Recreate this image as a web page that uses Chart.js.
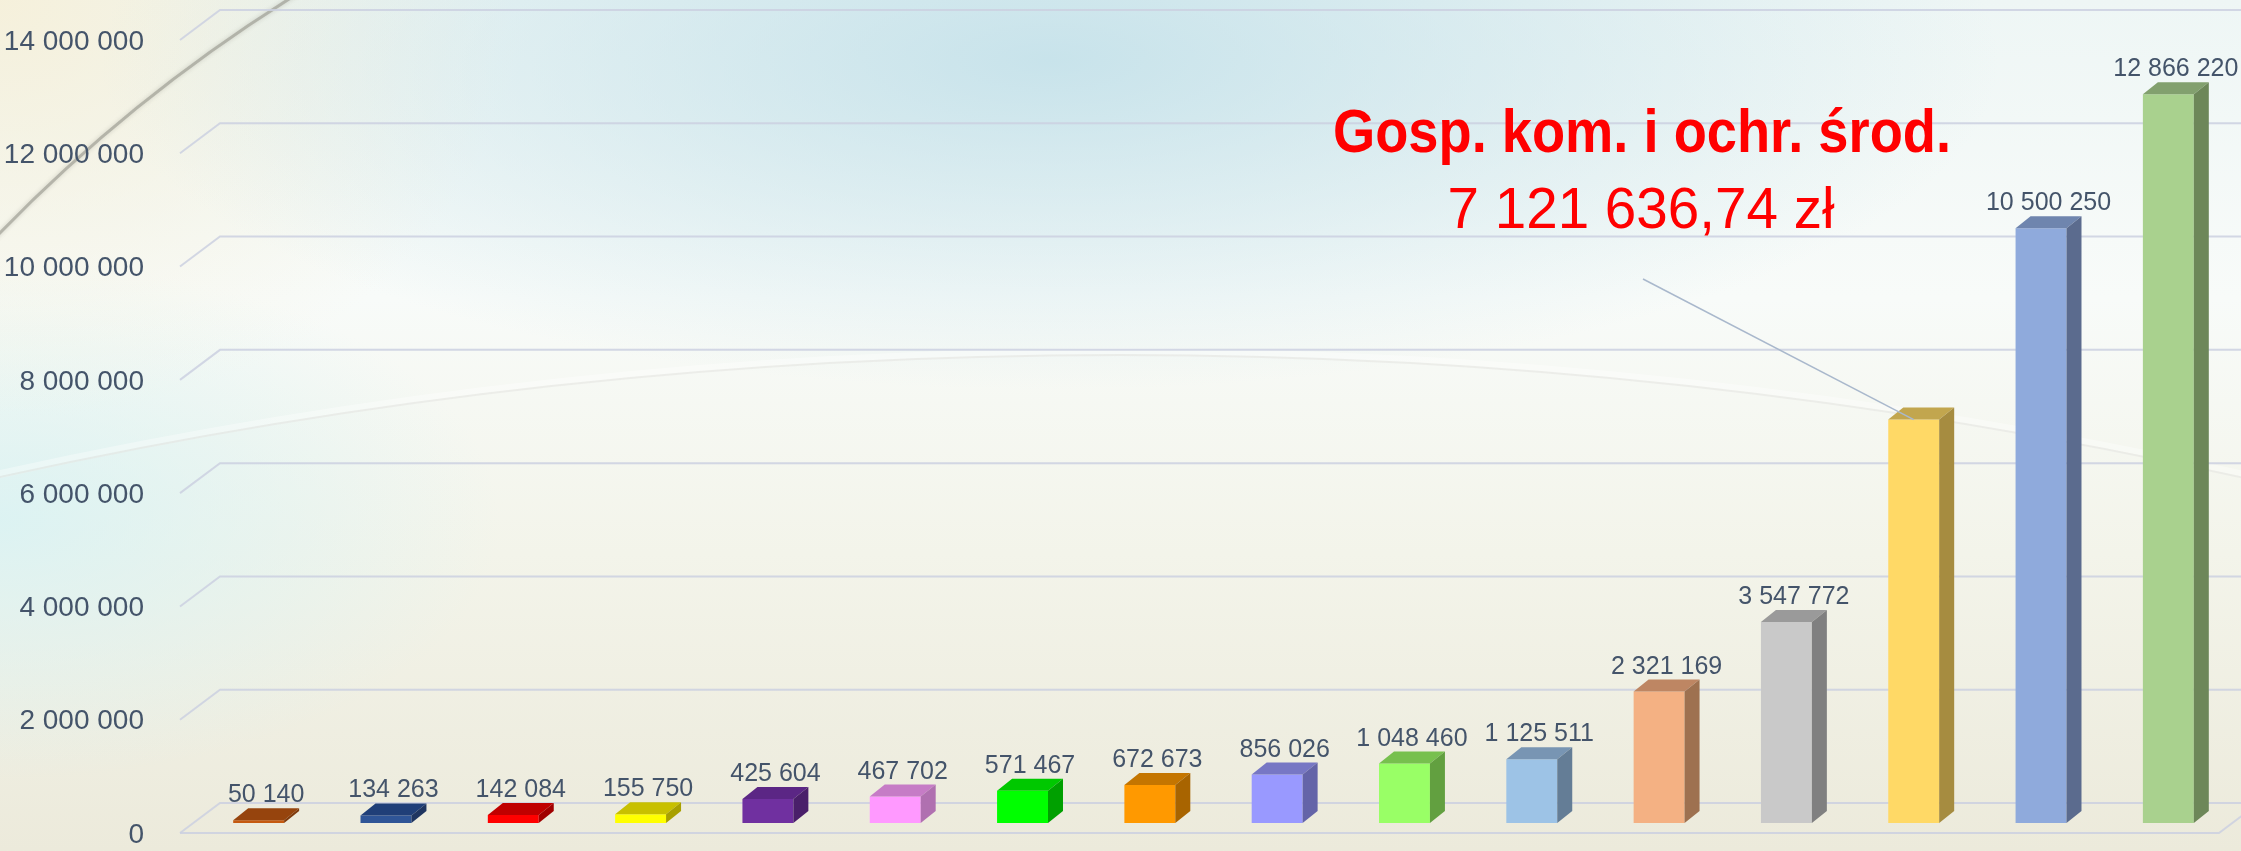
<!DOCTYPE html>
<html>
<head>
<meta charset="utf-8">
<script src="https://cdn.jsdelivr.net/npm/chart.js@4/dist/chart.umd.min.js"></script>
<style>
  html, body { margin: 0; padding: 0; }
  body {
    width: 2241px; height: 851px; overflow: hidden;
    background:
      radial-gradient(ellipse 950px 330px at 1050px 60px, rgba(190,222,232,0.8), rgba(190,222,232,0) 100%),
      radial-gradient(ellipse 520px 420px at 0px 0px, rgba(246,240,218,0.95), rgba(246,240,218,0) 100%),
      radial-gradient(ellipse 500px 260px at 0px 520px, rgba(214,242,244,0.8), rgba(214,242,244,0) 100%),
      linear-gradient(to bottom, #eef6f5 0%, #f8fbf9 35%, #f3f4ea 65%, #eceadb 100%);
  }
  #chart { display: block; }
</style>
</head>
<body>
<canvas id="chart" width="2241" height="851"></canvas>
<script>
// ===== data =====
const categories = ['k1', 'k2', 'k3', 'k4', 'k5', 'k6', 'k7', 'k8', 'k9', 'k10', 'k11', 'k12', 'k13', 'k14', 'k15', 'k16'];
const values = [50140, 134263, 142084, 155750, 425604, 467702, 571467, 672673, 856026, 1048460, 1125511, 2321169, 3547772, 7121636.74, 10500250, 12866220];
const yTicks = [0, 2000000, 4000000, 6000000, 8000000, 10000000, 12000000, 14000000];
const highlightIndex = 13;
const highlightTitle = 'Gosp. kom. i ochr. środ.';
const highlightValue = '7 121 636,74 zł';

// ===== styles =====
const frontColors = ['#C55A11', '#2F5597', '#FF0000', '#FFFF00', '#7030A0', '#FF99FF', '#00FF00', '#FF9900',
  '#9999FF', '#99FF66', '#9DC3E6', '#F4B183', '#C9C9C9', '#FFD966', '#8FAADC', '#A9D18E'];
const topColors = ['#96440D', '#203F78', '#C00000', '#C8C000', '#5B2685', '#C67CC6', '#00C800', '#C47500',
  '#7777C4', '#77C04E', '#7895B3', '#BE8663', '#9A9A9A', '#C2A64E', '#6F85AE', '#82A06E'];
const sideColors = ['#7F3A0C', '#1F3560', '#A00000', '#A8A000', '#4A1F6A', '#B070B0', '#00A000', '#A86400',
  '#6464A8', '#62A040', '#647D96', '#9E7150', '#808080', '#A68C40', '#5B6B8E', '#6D8759'];
const DX = 15, DY = 12;
const textColor = '#44546A';
const gridColor = 'rgba(203,208,224,0.85)';

const fmt = v => String(Math.round(v)).replace(/\B(?=(\d{3})+(?!\d))/g, ' ');

const backgroundArc = {
  id: 'backgroundArc',
  beforeDraw(chart) {
    const ctx = chart.ctx;
    ctx.save();
    ctx.strokeStyle = 'rgba(150,150,140,0.6)';
    ctx.lineWidth = 3;
    ctx.shadowColor = 'rgba(120,120,110,0.5)';
    ctx.shadowBlur = 4;
    ctx.beginPath();
    ctx.arc(1128, 1332, 1575, -137 * Math.PI / 180, -121 * Math.PI / 180);
    ctx.stroke();
    ctx.shadowBlur = 0;
    // faint wide curve across the middle
    ctx.strokeStyle = 'rgba(255,255,255,0.35)';
    ctx.lineWidth = 8;
    ctx.beginPath();
    ctx.arc(1120, 352 + 5200, 5200, -Math.PI / 2 - 0.24, -Math.PI / 2 + 0.24);
    ctx.stroke();
    ctx.strokeStyle = 'rgba(205,205,200,0.3)';
    ctx.lineWidth = 2;
    ctx.beginPath();
    ctx.arc(1120, 352 + 5200 + 3, 5200, -Math.PI / 2 - 0.24, -Math.PI / 2 + 0.24);
    ctx.stroke();
    ctx.restore();
  }
};

// perspective grid behind the bars
const grid3d = {
  id: 'grid3d',
  beforeDatasetsDraw(chart) {
    const { ctx, scales: { y } } = chart;
    ctx.save();
    ctx.strokeStyle = gridColor;
    ctx.lineWidth = 2;
    yTicks.forEach(v => {
      const py = y.getPixelForValue(v);
      ctx.beginPath();
      ctx.moveTo(180, py + 10);
      ctx.lineTo(220, py - 20);
      ctx.lineTo(chart.width, py - 20);
      ctx.stroke();
    });
    const p0 = y.getPixelForValue(0);
    ctx.beginPath();
    ctx.moveTo(180, p0 + 10);
    ctx.lineTo(2219, p0 + 10);
    ctx.lineTo(2259, p0 - 20);
    ctx.stroke();
    ctx.restore();
  }
};

// top and side faces, value labels, callout
const bars3d = {
  id: 'bars3d',
  afterDatasetsDraw(chart) {
    const ctx = chart.ctx;
    const meta = chart.getDatasetMeta(0);
    ctx.save();
    meta.data.forEach((bar, i) => {
      const { x, y, base, width } = bar.getProps(['x', 'y', 'base', 'width'], true);
      const l = x - width / 2, r = x + width / 2;
      ctx.fillStyle = topColors[i];
      ctx.beginPath();
      ctx.moveTo(l, y); ctx.lineTo(r, y); ctx.lineTo(r + DX, y - DY); ctx.lineTo(l + DX, y - DY);
      ctx.closePath(); ctx.fill();
      ctx.fillStyle = sideColors[i];
      ctx.beginPath();
      ctx.moveTo(r, y); ctx.lineTo(r + DX, y - DY); ctx.lineTo(r + DX, base - DY); ctx.lineTo(r, base);
      ctx.closePath(); ctx.fill();

      if (i !== highlightIndex) {
        ctx.fillStyle = textColor;
        ctx.font = '25px "Liberation Sans"';
        ctx.textAlign = 'center';
        ctx.textBaseline = 'alphabetic';
        ctx.fillText(fmt(values[i]), x + DX / 2, y - DY - 6);
      }
    });

    // callout for the highlighted bar
    const hb = meta.data[highlightIndex];
    ctx.strokeStyle = '#A9B8CC';
    ctx.lineWidth = 1.5;
    ctx.beginPath();
    ctx.moveTo(1643, 279);
    ctx.lineTo(hb.x, hb.y);
    ctx.stroke();

    ctx.fillStyle = '#FF0000';
    ctx.textAlign = 'center';
    ctx.textBaseline = 'alphabetic';
    const drawFitted = (txt, font, cx, by, w) => {
      ctx.font = font;
      const m = ctx.measureText(txt).width;
      ctx.save();
      ctx.translate(cx, by);
      ctx.scale(w / m, 1);
      ctx.fillText(txt, 0, 0);
      ctx.restore();
    };
    drawFitted(highlightTitle, 'bold 62px "Liberation Sans"', 1642, 152, 618);
    drawFitted(highlightValue, '57px "Liberation Sans"', 1641, 228, 387);
    ctx.restore();
  }
};

new Chart(document.getElementById('chart').getContext('2d'), {
  type: 'bar',
  data: {
    labels: categories,
    datasets: [{
      data: values,
      backgroundColor: frontColors,
      borderWidth: 0,
      barPercentage: 0.4,
      categoryPercentage: 1
    }]
  },
  options: {
    responsive: false,
    animation: false,
    layout: { padding: { top: 30, right: 9, bottom: 28, left: 0 } },
    plugins: { legend: { display: false }, tooltip: { enabled: false } },
    scales: {
      x: { display: false },
      y: {
        min: 0,
        max: 14000000,
        afterBuildTicks: s => { s.ticks = yTicks.map(v => ({ value: v })); },
        afterFit: s => { s.width = 195; s.paddingTop = 0; s.paddingBottom = 0; },
        grid: { display: false },
        border: { display: false },
        ticks: {
          labelOffset: 12,
          padding: 43,
          color: textColor,
          font: { family: 'Liberation Sans', size: 28 },
          callback: v => fmt(v)
        }
      }
    }
  },
  plugins: [backgroundArc, grid3d, bars3d]
});
</script>
</body>
</html>
